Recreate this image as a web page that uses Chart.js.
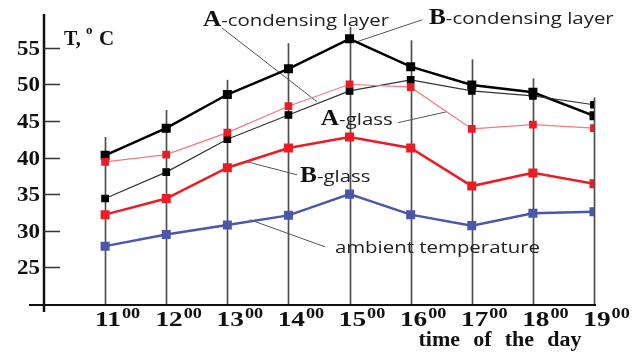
<!DOCTYPE html>
<html>
<head>
<meta charset="utf-8">
<script src="https://cdn.jsdelivr.net/npm/chart.js@4.4.1/dist/chart.umd.min.js"></script>
<style>
html,body{margin:0;padding:0;background:#fff;}
canvas{display:block;}
</style>
</head>
<body>
<canvas id="c" width="643" height="352"></canvas>
<script>
// ---- data ----
const hours = [11, 12, 13, 14, 15, 16, 17, 18, 19];
const hourLabels = ['11', '12', '13', '14', '15', '16', '17', '18', '19'];
const hourSup = '00';
const yTicks = [25, 30, 35, 40, 45, 50, 55];
const bCondensing = [40.3, 44.0, 48.6, 52.1, 56.2, 52.4, 49.9, 48.9, 45.7];
const aCondensing = [34.4, 38.0, 42.5, 45.8, 49.1, 50.6, 49.1, 48.4, 47.2];
const aGlass = [39.4, 40.4, 43.4, 47.0, 50.0, 49.6, 43.9, 44.5, 44.0];
const bGlass = [32.2, 34.4, 38.6, 41.3, 42.8, 41.3, 36.1, 37.9, 36.4];
const ambient = [27.9, 29.5, 30.8, 32.1, 35.0, 32.2, 30.7, 32.4, 32.6];
const dropTops = [42.8, 46.5, 50.6, 55.6, 57.8, 56.0, 53.4, 50.8, 48.2];

// annotation labels: bold letter + rest, text anchor and leader line in data coords
const notes = [
  {bold: 'A', text: '-condensing layer', at: [12.60, 57.9], from: [12.91, 57.7], to: [14.47, 47.6]},
  {bold: 'B', text: '-condensing layer', at: [16.30, 58.2], from: [16.19, 58.8], to: [15.12, 55.8]},
  {bold: 'A', text: '-glass', at: [14.53, 44.4], from: [15.79, 44.75], to: [16.59, 46.25]},
  {bold: 'B', text: '-glass', at: [14.19, 36.6], from: [14.14, 37.64], to: [13.32, 39.42]},
  {bold: '', text: 'ambient temperature', at: [14.76, 26.9], from: [14.60, 27.8], to: [13.37, 31.5]}
];

const pts = arr => hours.map((h, i) => ({x: h, y: arr[i]}));

const SERIF = '"Liberation Serif", "Times New Roman", serif';
const SANS = '"Open Sans", "Noto Sans", sans-serif';

// draw horizontally stretched text; returns drawn width
function sText(ctx, str, px, py, font, sx, align) {
  ctx.font = font;
  const w = ctx.measureText(str).width * sx;
  let left = px;
  if (align === 'right') left = px - w;
  else if (align === 'center') left = px - w / 2;
  ctx.save();
  ctx.translate(left, py);
  ctx.scale(sx, 1);
  ctx.textAlign = 'left';
  ctx.fillText(str, 0, 0);
  ctx.restore();
  return w;
}
function sWidth(ctx, str, font, sx) {
  ctx.font = font;
  return ctx.measureText(str).width * sx;
}

const decor = {
  id: 'decor',
  beforeDatasetsDraw(chart) {
    const {ctx, scales: {x, y}} = chart;
    ctx.save();
    ctx.strokeStyle = 'rgba(60,60,60,0.9)';
    ctx.lineWidth = 1.7;
    hours.forEach((h, i) => {
      const px = Math.round(x.getPixelForValue(h)) + 0.5;
      ctx.beginPath();
      ctx.moveTo(px, y.getPixelForValue(20));
      ctx.lineTo(px, y.getPixelForValue(dropTops[i]));
      ctx.stroke();
    });
    // leader lines
    ctx.strokeStyle = '#555';
    ctx.lineWidth = 1;
    notes.forEach(n => {
      ctx.beginPath();
      ctx.moveTo(x.getPixelForValue(n.from[0]), y.getPixelForValue(n.from[1]));
      ctx.lineTo(x.getPixelForValue(n.to[0]), y.getPixelForValue(n.to[1]));
      ctx.stroke();
    });
    ctx.restore();
  },
  afterDraw(chart) {
    const {ctx, scales: {x, y}} = chart;
    const x0 = x.getPixelForValue(10);
    const y0 = y.getPixelForValue(20);
    ctx.save();
    // axes
    ctx.strokeStyle = '#111';
    ctx.lineWidth = 2.5;
    ctx.beginPath();
    ctx.moveTo(x0, y.getPixelForValue(59.6));
    ctx.lineTo(x0, y0 + 8);
    ctx.stroke();
    ctx.lineWidth = 2;
    ctx.beginPath();
    ctx.moveTo(x0 - 15, y0 + 1);
    ctx.lineTo(x.getPixelForValue(19) + 2, y0 + 1);
    ctx.stroke();
    // y ticks and labels
    ctx.lineWidth = 1.5;
    ctx.strokeStyle = '#333';
    ctx.fillStyle = '#111';
    ctx.textBaseline = 'middle';
    yTicks.forEach(v => {
      const py = Math.round(y.getPixelForValue(v)) + 0.5;
      ctx.beginPath();
      ctx.moveTo(x0, py);
      ctx.lineTo(x0 + 16, py);
      ctx.stroke();
      sText(ctx, String(v), x0 - 4, py + 1, 'bold 20px ' + SERIF, 1.15, 'right');
    });
    // x labels with superscript
    ctx.textBaseline = 'alphabetic';
    const fMain = 'bold 21px ' + SERIF, fSup = 'bold 14px ' + SERIF;
    hours.forEach((h, i) => {
      const main = hourLabels[i];
      const w1 = sWidth(ctx, main, fMain, 1.3);
      const w2 = sWidth(ctx, hourSup, fSup, 1.3);
      const cx = x.getPixelForValue(h) + 12;
      const left = cx - (w1 + w2) / 2;
      sText(ctx, main, left, y0 + 22, fMain, 1.3, 'left');
      sText(ctx, hourSup, left + w1 + 1, y0 + 14, fSup, 1.3, 'left');
    });
    // axis titles
    ctx.font = 'bold 20px ' + SERIF;
    ctx.textAlign = 'left';
    ctx.fillText('T,', x0 + 20, 45);
    ctx.font = 'bold 13px ' + SERIF;
    ctx.fillText('o', x0 + 42, 34);
    ctx.font = 'bold 21px ' + SERIF;
    ctx.fillText('C', x0 + 55, 45);
    ctx.wordSpacing = '7px';
    sText(ctx, 'time of the day', 500, 346, 'bold 20px ' + SERIF, 1.1, 'center');
    ctx.wordSpacing = '0px';
    // annotations
    notes.forEach(n => {
      let px = x.getPixelForValue(n.at[0]);
      const py = y.getPixelForValue(n.at[1]);
      if (n.bold) {
        ctx.fillStyle = '#111';
        px += sText(ctx, n.bold, px, py, 'bold 23px ' + SERIF, 1.1, 'left');
      }
      ctx.fillStyle = '#222';
      sText(ctx, n.text, px, py, '17px ' + SANS, 1.2, 'left');
    });
    ctx.restore();
  }
};

const ds = (label, arr, color, ptColor, width, ptSize) => ({
  label, data: pts(arr), borderColor: color, backgroundColor: ptColor,
  pointBackgroundColor: ptColor, pointBorderColor: ptColor, pointStyle: 'rect',
  pointRadius: ptSize, borderWidth: width, tension: 0
});

new Chart(document.getElementById('c'), {
  type: 'line',
  data: {
    datasets: [
      ds('ambient temperature', ambient, '#4b57a8', '#4b57a8', 2.5, 4.6),
      ds('B-glass', bGlass, '#ec1c24', '#ec1c24', 2.5, 4.6),
      ds('A-glass', aGlass, '#f27a80', '#ec1c24', 1.2, 4.6),
      ds('A-condensing layer', aCondensing, '#333', '#000', 1.2, 4.6),
      ds('B-condensing layer', bCondensing, '#000', '#000', 2.5, 4.6)
    ]
  },
  options: {
    responsive: false,
    animation: false,
    devicePixelRatio: 1,
    layout: {padding: {left: 44, right: 49, top: 11, bottom: 48}},
    plugins: {legend: {display: false}, tooltip: {enabled: false}},
    scales: {
      x: {type: 'linear', min: 10, max: 19, display: false},
      y: {type: 'linear', min: 20, max: 60, display: false}
    }
  },
  plugins: [decor]
});
</script>
</body>
</html>
